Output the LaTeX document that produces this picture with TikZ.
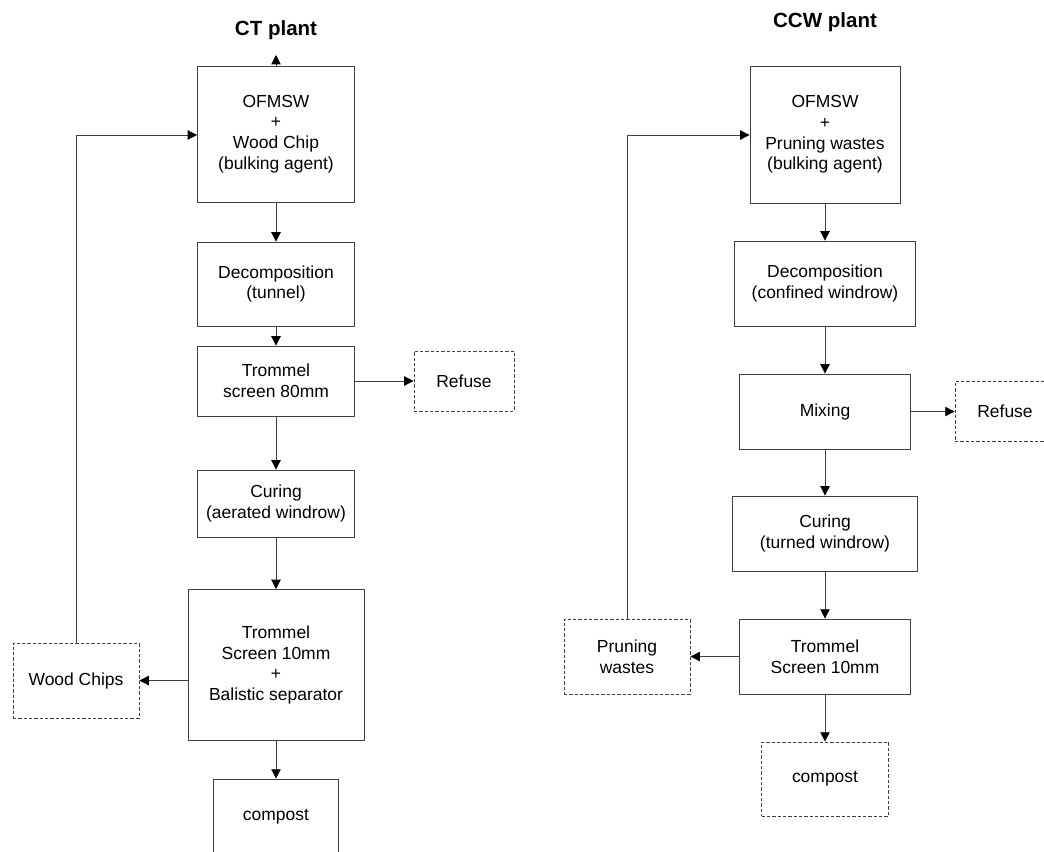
\documentclass[tikz,border=0pt]{standalone}
\usepackage{fontspec}
\setmainfont{Liberation Sans}
\usetikzlibrary{arrows.meta}
\begin{document}
\begin{tikzpicture}[x=0.75pt,y=-0.75pt,
  flow/.style={draw=black!75, line width=0.65pt, align=center, inner sep=0pt,
    font=\fontsize{13.1}{15.5}\selectfont},
  stage/.style={flow},
  output/.style={flow, dash pattern=on 2.5pt off 1.5pt},
  sz/.style 2 args={minimum width=#1*0.75pt, minimum height=#2*0.75pt},
  heading/.style={font=\fontsize{15.4}{18}\selectfont\bfseries},
  link/.style={draw=black!75, line width=0.65pt, -{Triangle[length=7pt,width=7pt,color=black]}},
  wire/.style={draw=black!75, line width=0.65pt},
  ]
\useasboundingbox (0,0) rectangle (1044,851);
\clip (0,0) rectangle (1044,851);

% ---------------- CT plant ----------------
\node[heading] (ctT) at (276,30) {CT plant};
\node[stage, sz={157}{136}] (ct1) at (276,134) {OFMSW\\+\\Wood Chip\\(bulking agent)};
\node[stage, sz={157}{84}]  (ct2) at (276,284) {Decomposition\\(tunnel)};
\node[stage, sz={157}{70}]  (ct3) at (276,381) {Trommel\\screen 80mm};
\node[stage, sz={157}{67}]  (ct4) at (276,503.5) {Curing\\(aerated windrow)};
\node[stage, sz={176}{151}] (ct5) at (276,665) {Trommel\\Screen 10mm\\+\\Balistic separator};
\node[stage, sz={125}{76}]  (ct6) at (276,817) {compost};
\node[output, sz={100}{60}] (ctR) at (464,381) {Refuse};
\node[output, sz={126}{75}] (ctW) at (76,680.5) {Wood Chips};
\coordinate (ctUp) at (276,55);
\coordinate (ctBend) at (76,135);

\draw[link] (ct1.north) -- (ctUp);
\draw[link] (ct1) -- (ct2);
\draw[link] (ct2) -- (ct3);
\draw[link] (ct3) -- (ctR);
\draw[link] (ct3) -- (ct4);
\draw[link] (ct4) -- (ct5);
\draw[link] (ct5) -- (ct6);
\draw[link] (ct5.west |- ctW) -- (ctW.east);
\draw[link] (ctW.north) -- (ctBend) -- (ct1.west |- ctBend);

% ---------------- CCW plant ----------------
\node[heading] (ccT) at (825,22) {CCW plant};
\node[stage, sz={150}{137}] (cc1) at (825,134.5) {OFMSW\\+\\Pruning wastes\\(bulking agent)};
\node[stage, sz={181}{85}]  (cc2) at (825,283.5) {Decomposition\\(confined windrow)};
\node[stage, sz={171}{75}]  (cc3) at (825,411.5) {Mixing};
\node[stage, sz={185}{75}]  (cc4) at (825,533.5) {Curing\\(turned windrow)};
\node[stage, sz={171}{75}]  (cc5) at (825,656.5) {Trommel\\Screen 10mm};
\node[output, sz={127}{74}] (cc6) at (825,779) {compost};
\node[output, sz={100}{60}] (ccR) at (1005,411.5) {Refuse};
\node[output, sz={126}{75}] (ccP) at (627,656.5) {Pruning\\wastes};
\coordinate (ccBend) at (627,135);

\draw[link] (cc1) -- (cc2);
\draw[link] (cc2) -- (cc3);
\draw[link] (cc3) -- (ccR);
\draw[link] (cc3) -- (cc4);
\draw[link] (cc4) -- (cc5);
\draw[link] (cc5) -- (cc6);
\draw[link] (cc5) -- (ccP);
\draw[link] (ccP.north) -- (ccBend) -- (cc1.west |- ccBend);
\end{tikzpicture}
\end{document}
